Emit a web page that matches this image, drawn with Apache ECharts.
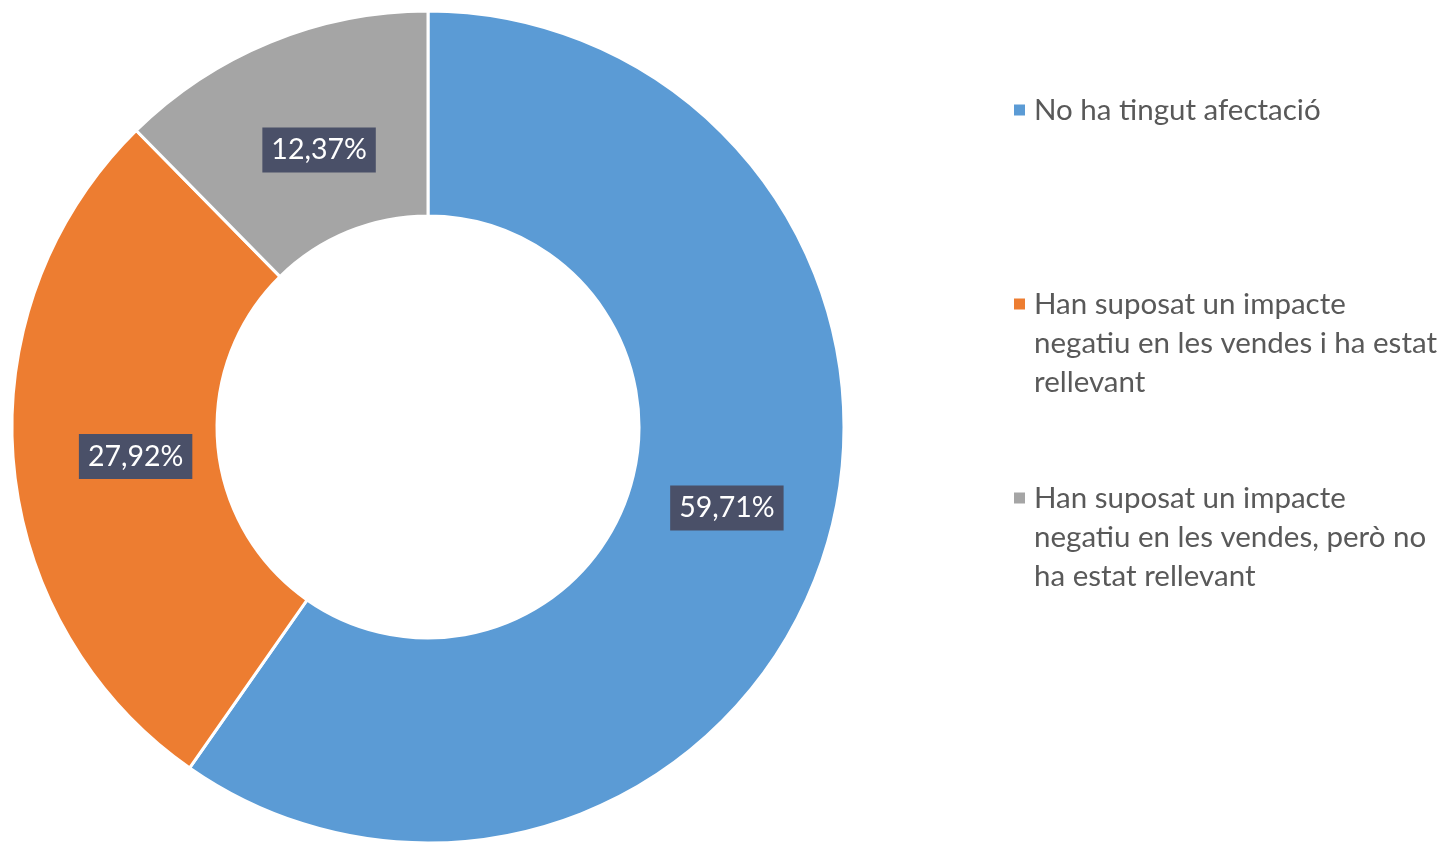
<!DOCTYPE html>
<html>
<head>
<meta charset="utf-8">
<script src="https://cdn.jsdelivr.net/npm/echarts@6/dist/echarts.min.js"></script>
<style>
html,body{margin:0;padding:0;background:#fff;}
#chart{width:1447px;height:842px;}
</style>
</head>
<body>
<div id="chart"></div>
<script>
const categories = [
  "No ha tingut afectació",
  "Han suposat un impacte negatiu en les vendes i ha estat rellevant",
  "Han suposat un impacte negatiu en les vendes, però no ha estat rellevant"
];
const legendLines = [
  ["No ha tingut afectació"],
  ["Han suposat un impacte", "negatiu en les vendes i ha estat", "rellevant"],
  ["Han suposat un impacte", "negatiu en les vendes, però no", "ha estat rellevant"]
];
const values = [59.71, 27.92, 12.37];
const colors = ["#5B9BD5", "#ED7D31", "#A5A5A5"];

const FONT = "Lato, 'Open Sans', sans-serif";
const LINE_H = 39;
const FS = 29.5;
const LABEL_FS = 28.5;
const labelOffsets = [[-3, -14], [23, 3], [11, 16]];
const legendMarkerY = [110, 304, 498];

const chart = echarts.init(document.getElementById('chart'));

const legends = categories.map((name, i) => {
  const n = legendLines[i].length;
  const lines = [];
  for (let k = 1; k < n; k++) lines.push(' ');
  const text = lines.concat(legendLines[i]).join('\n');
  const h = (2 * n - 1) * LINE_H;
  return {
    data: [{ name: name, icon: 'rect' }],
    orient: 'vertical',
    left: 1012,
    top: legendMarkerY[i] - h / 2,
    padding: 0,
    itemWidth: 13,
    itemHeight: 13,
    itemGap: 0,
    selectedMode: false,
    formatter: function () { return text; },
    textStyle: {
      fontFamily: FONT,
      fontSize: FS,
      color: '#595959',
      lineHeight: LINE_H,
      padding: [0, 0, 0, 3]
    }
  };
});

chart.setOption({
  animation: false,
  color: colors,
  legend: legends,
  series: [{
    type: 'pie',
    center: [428, 427],
    radius: [211, 416],
    startAngle: 90,
    clockwise: true,
    avoidLabelOverlap: false,
    itemStyle: { borderColor: '#fff', borderWidth: 3 },
    label: {
      show: true,
      position: 'inside',
      fontFamily: FONT,
      fontSize: LABEL_FS,
      color: '#fff',
      backgroundColor: '#4A5068',
      padding: [8, 9, 8, 9],
      formatter: p => p.value.toFixed(2).replace('.', ',') + '%'
    },
    labelLine: { show: false },
    emphasis: { disabled: true },
    data: categories.map((name, i) => ({
      name: name,
      value: values[i],
      label: { offset: labelOffsets[i] }
    }))
  }]
});
</script>
</body>
</html>
